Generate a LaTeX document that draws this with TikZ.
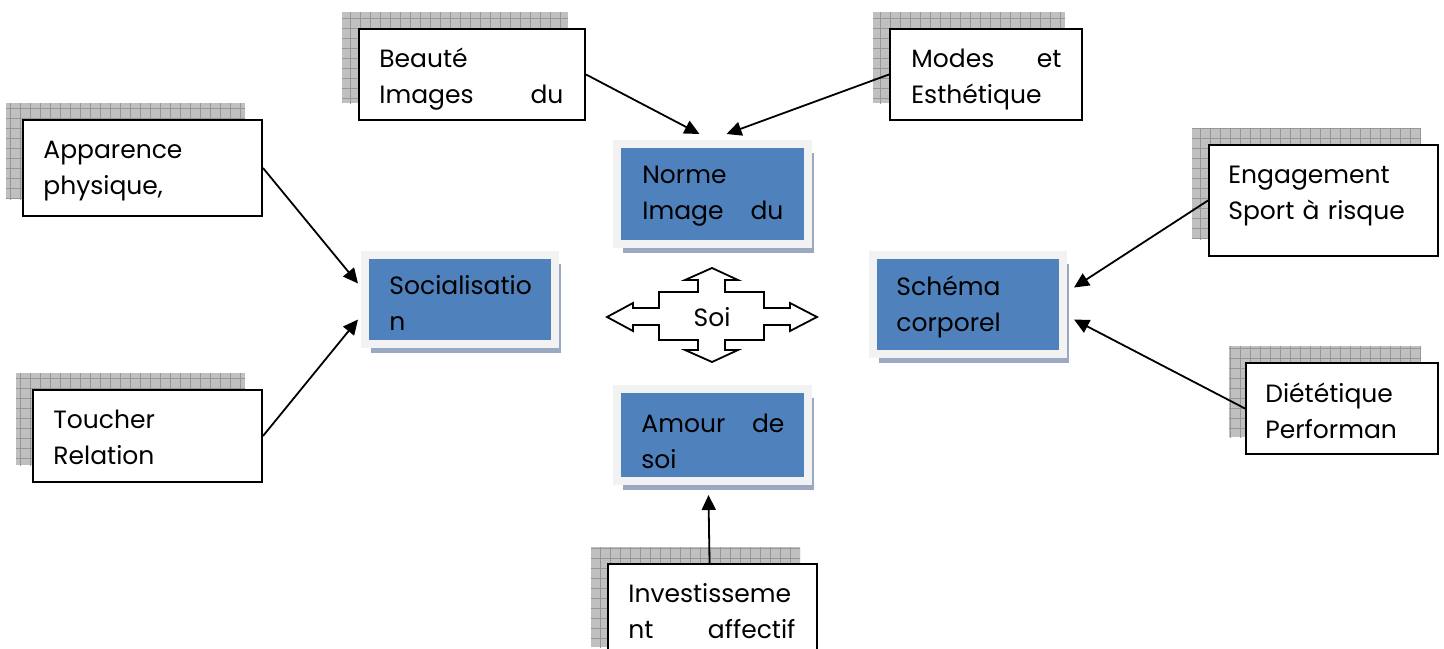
\documentclass[tikz,border=0pt]{standalone}
\usepackage{fontspec}
\setmainfont{Poppins}
\usetikzlibrary{arrows.meta,shadows,patterns.meta}
\definecolor{boxblue}{HTML}{4F81BD}
\definecolor{framegray}{HTML}{F2F2F2}
\definecolor{shadeblue}{HTML}{9AA8C2}
\definecolor{shadegray}{HTML}{C0C0C0}
\definecolor{gridgray}{HTML}{979797}
\newcommand{\spreadgap}{\hskip 0pt plus 1filll\relax}
\tikzset{
  leafbox/.style={draw, line width=1pt, fill=white, anchor=north west, inner sep=0pt},
  gridshade/.style={fill=shadegray, postaction={pattern={Hatch[distance=5pt, line width=.4pt]}, pattern color=gridgray}},
  corebox/.style={draw=framegray, line width=4pt, fill=boxblue, anchor=north west, inner sep=0pt,
    drop shadow={shadow xshift=3pt, shadow yshift=-4.5pt, fill=shadeblue, opacity=1}},
  boxtext/.style={anchor=north west, inner sep=0pt, align=left, font=\fontsize{12.5}{18}\selectfont},
}
\begin{document}
\begin{tikzpicture}[
        x=0.5pt, y=-0.5pt,
        >={Triangle[length=7.5pt,width=7pt]},
        ]
        \useasboundingbox (0,0) rectangle (1444,648);
        % grid shadows behind the white boxes
        \foreach \x/\y/\w/\h in {342/12/226/91, 873/12/192/91, 6/103/239/96, 16/373/229/92,
                1192/128/229/111, 1229/346/192/91, 591/547/209/100}
            \fill[gridshade] (\x,\y) rectangle ++(\w,\h);
        % white boxes
        \node[leafbox, minimum width=113pt, minimum height=45.5pt] (beaute) at (358,28) {};
        \node[leafbox, minimum width=96pt, minimum height=45.5pt] (modes) at (889,28) {};
        \node[leafbox, minimum width=119.5pt, minimum height=48pt] (apparence) at (22,119) {};
        \node[leafbox, minimum width=114.5pt, minimum height=46pt] (toucher) at (32,389) {};
        \node[leafbox, minimum width=114.5pt, minimum height=55.5pt] (engagement) at (1208,144) {};
        \node[leafbox, minimum width=96pt, minimum height=45.5pt] (dietetique) at (1245,362) {};
        \node[leafbox, minimum width=104.5pt, minimum height=50pt] (invest) at (607,563) {};
        \node[boxtext, text width=92pt] (beaute-t) at ([shift={(21,14)}]beaute.north west) {\strut Beauté\\Images\spreadgap du};
        \node[boxtext, text width=75pt] (modes-t) at ([shift={(22,14)}]modes.north west) {\strut Modes\spreadgap et\\Esthétique};
        \node[boxtext, text width=98.5pt] (apparence-t) at ([shift={(21,14)}]apparence.north west) {\strut Apparence\\physique,};
        \node[boxtext, text width=93.5pt] (toucher-t) at ([shift={(21,14)}]toucher.north west) {\strut Toucher\\Relation};
        \node[boxtext, text width=93.5pt] (engagement-t) at ([shift={(20,14)}]engagement.north west) {\strut Engagement\\Sport à risque};
        \node[boxtext, text width=75pt] (dietetique-t) at ([shift={(20,15)}]dietetique.north west) {\strut Diététique\\Performan};
        \node[boxtext, text width=83.5pt] (invest-t) at ([shift={(21,14)}]invest.north west) {\strut Investisseme\\nt\spreadgap affectif};
        % blue boxes
        \node[corebox, minimum width=95.5pt, minimum height=50pt] (norme) at (613,140) {};
        \node[corebox, minimum width=95pt, minimum height=44.5pt] (social) at (361,251) {};
        \node[corebox, minimum width=95.5pt, minimum height=46pt] (amour) at (613,385) {};
        \node[corebox, minimum width=95pt, minimum height=49.5pt] (schema) at (869,251) {};
        \node[boxtext, text width=70.5pt] (norme-t) at ([shift={(29,18)}]norme.north west) {\strut Norme\\Image\spreadgap du};
        \node[boxtext, text width=71pt] (social-t) at ([shift={(28,18)}]social.north west) {\strut Socialisatio\\n};
        \node[boxtext, text width=71.5pt] (amour-t) at ([shift={(28,22)}]amour.north west) {\strut Amour\spreadgap de\\soi};
        \node[boxtext, text width=72pt] (schema-t) at ([shift={(27,19)}]schema.north west) {\strut Schéma\\corporel};
        % the cross round Soi
        \draw[line width=0.9pt, fill=white] (712,268) -- (738,280) -- (725,280) -- (725,292) -- (764,292)
            -- (764,308) -- (790,308) -- (790,303) -- (817,317) -- (790,331) -- (790,325) -- (764,325)
            -- (764,340) -- (725,340) -- (725,350) -- (738,350) -- (712,362) -- (685,350) -- (698,350)
            -- (698,340) -- (659,340) -- (659,325) -- (633,325) -- (633,331) -- (607,317) -- (633,303)
            -- (633,308) -- (659,308) -- (659,292) -- (698,292) -- (698,280) -- (685,280) -- cycle;
        \node[font=\fontsize{12.5}{18}\selectfont] (soi) at (712,317) {Soi};
        % connectors
        \draw[->, line width=0.9pt] (beaute.east) -- ([shift={(-13,-6)}]norme.north);
        \draw[->, line width=0.9pt] (modes.west) -- ([shift={(14,-6)}]norme.north);
        \draw[->, line width=0.9pt] (apparence.east) -- ([shift={(-3,-16)}]social.west);
        \draw[->, line width=0.9pt] (toucher.east) -- ([shift={(-3,20)}]social.west);
        \draw[->, line width=0.9pt] (engagement.west) -- ([shift={(7,-17)}]schema.east);
        \draw[->, line width=0.9pt] (dietetique.west) -- ([shift={(7,15)}]schema.east);
        \draw[->, line width=0.9pt] ([shift={(-3,0)}]invest.north) -- ([shift={(-4,10)}]amour.south);
\end{tikzpicture}
\end{document}
